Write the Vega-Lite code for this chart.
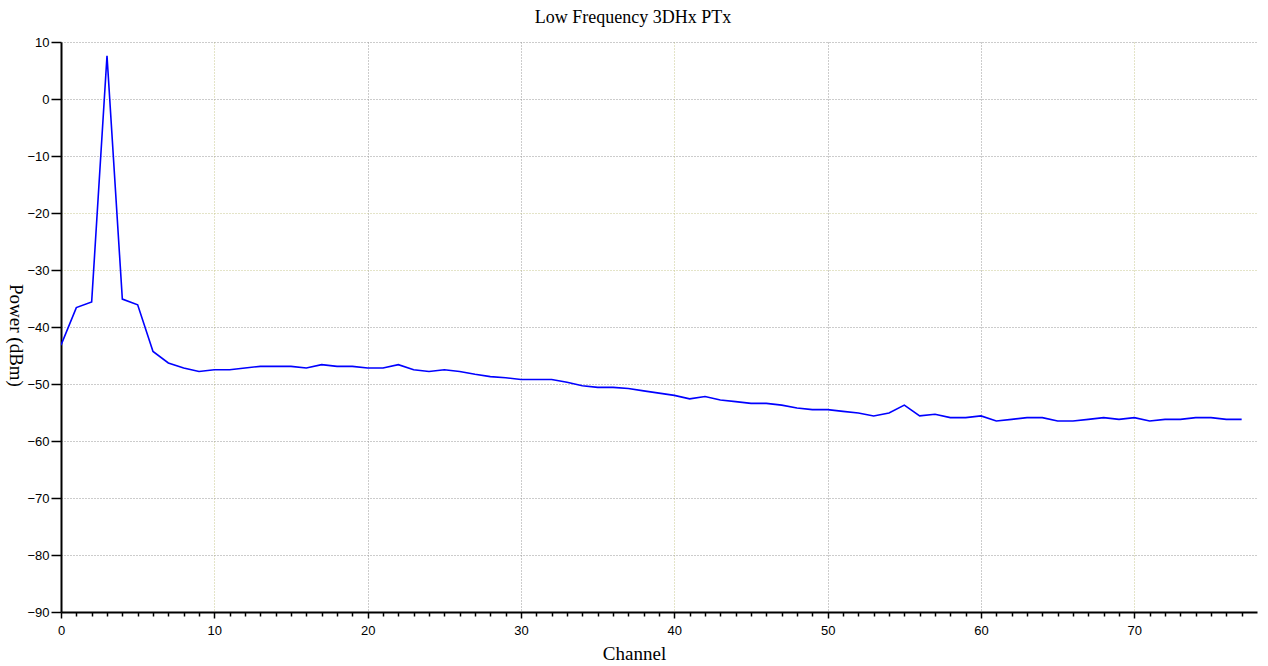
{
  "$schema": "https://vega.github.io/schema/vega-lite/v6.json",
  "width": 1196,
  "height": 570,
  "autosize": {"type": "none"},
  "padding": {"left": 61, "top": 42, "right": 11, "bottom": 54},
  "background": "white",
  "title": {
    "text": "Low Frequency 3DHx PTx",
    "font": "Liberation Serif",
    "fontSize": 18,
    "fontWeight": "normal",
    "color": "black",
    "anchor": "middle",
    "dx": -26,
    "offset": 9
  },
  "config": {"view": {"stroke": null}},
  "data": {
    "values": [
      {"ch": 0, "p": -43.2}, {"ch": 1, "p": -36.6}, {"ch": 2, "p": -35.6}, {"ch": 3, "p": 7.6},
      {"ch": 4, "p": -35.1}, {"ch": 5, "p": -36.1}, {"ch": 6, "p": -44.3}, {"ch": 7, "p": -46.3},
      {"ch": 8, "p": -47.2}, {"ch": 9, "p": -47.8}, {"ch": 10, "p": -47.5}, {"ch": 11, "p": -47.5},
      {"ch": 12, "p": -47.2}, {"ch": 13, "p": -46.9}, {"ch": 14, "p": -46.9}, {"ch": 15, "p": -46.9},
      {"ch": 16, "p": -47.2}, {"ch": 17, "p": -46.6}, {"ch": 18, "p": -46.9}, {"ch": 19, "p": -46.9},
      {"ch": 20, "p": -47.2}, {"ch": 21, "p": -47.2}, {"ch": 22, "p": -46.6}, {"ch": 23, "p": -47.5},
      {"ch": 24, "p": -47.8}, {"ch": 25, "p": -47.5}, {"ch": 26, "p": -47.8}, {"ch": 27, "p": -48.3},
      {"ch": 28, "p": -48.7}, {"ch": 29, "p": -48.9}, {"ch": 30, "p": -49.2}, {"ch": 31, "p": -49.2},
      {"ch": 32, "p": -49.2}, {"ch": 33, "p": -49.7}, {"ch": 34, "p": -50.3}, {"ch": 35, "p": -50.6},
      {"ch": 36, "p": -50.6}, {"ch": 37, "p": -50.8}, {"ch": 38, "p": -51.2}, {"ch": 39, "p": -51.6},
      {"ch": 40, "p": -52.0}, {"ch": 41, "p": -52.6}, {"ch": 42, "p": -52.2}, {"ch": 43, "p": -52.8},
      {"ch": 44, "p": -53.1}, {"ch": 45, "p": -53.4}, {"ch": 46, "p": -53.4}, {"ch": 47, "p": -53.7},
      {"ch": 48, "p": -54.2}, {"ch": 49, "p": -54.5}, {"ch": 50, "p": -54.5}, {"ch": 51, "p": -54.8},
      {"ch": 52, "p": -55.1}, {"ch": 53, "p": -55.6}, {"ch": 54, "p": -55.1}, {"ch": 55, "p": -53.7},
      {"ch": 56, "p": -55.6}, {"ch": 57, "p": -55.3}, {"ch": 58, "p": -55.9}, {"ch": 59, "p": -55.9},
      {"ch": 60, "p": -55.6}, {"ch": 61, "p": -56.5}, {"ch": 62, "p": -56.2}, {"ch": 63, "p": -55.9},
      {"ch": 64, "p": -55.9}, {"ch": 65, "p": -56.5}, {"ch": 66, "p": -56.5}, {"ch": 67, "p": -56.2},
      {"ch": 68, "p": -55.9}, {"ch": 69, "p": -56.2}, {"ch": 70, "p": -55.9}, {"ch": 71, "p": -56.5},
      {"ch": 72, "p": -56.2}, {"ch": 73, "p": -56.2}, {"ch": 74, "p": -55.9}, {"ch": 75, "p": -55.9},
      {"ch": 76, "p": -56.2}, {"ch": 77, "p": -56.2}
    ]
  },
  "mark": {"type": "line", "color": "#0000ff", "strokeWidth": 1.6, "clip": true},
  "encoding": {
    "x": {
      "field": "ch",
      "type": "quantitative",
      "scale": {"domain": [0, 78], "nice": false, "zero": false},
      "axis": {
        "title": "Channel",
        "titleFont": "Liberation Serif",
        "titleFontSize": 19,
        "titleFontWeight": "normal",
        "titleColor": "black",
        "titleX": 573,
        "titleY": 41,
        "titleAlign": "center",
        "titleBaseline": "middle",
        "values": [0,1,2,3,4,5,6,7,8,9,10,11,12,13,14,15,16,17,18,19,20,21,22,23,24,25,26,27,28,29,30,31,32,33,34,35,36,37,38,39,40,41,42,43,44,45,46,47,48,49,50,51,52,53,54,55,56,57,58,59,60,61,62,63,64,65,66,67,68,69,70,71,72,73,74,75,76,77],
        "labelExpr": "datum.value % 10 == 0 ? datum.label : ''",
        "labelFont": "Liberation Sans",
        "labelFontSize": 13,
        "labelColor": "black",
        "labelPadding": 6,
        "labelFlush": false,
        "labelOverlap": false,
        "domainColor": "black",
        "domainWidth": 2,
        "tickColor": "black",
        "tickWidth": 1.5,
        "tickSize": {"condition": {"test": "datum.value % 10 == 0", "value": 6}, "value": 4},
        "grid": true,
        "gridDash": [1, 2],
        "gridWidth": 1,
        "gridOpacity": {"condition": {"test": "datum.value % 10 == 0 && datum.value > 0", "value": 1}, "value": 0},
        "gridColor": {"condition": {"test": "datum.value == 10 || datum.value == 40 || datum.value == 70", "value": "#c8c890"}, "value": "#999999"}
      }
    },
    "y": {
      "field": "p",
      "type": "quantitative",
      "scale": {"domain": [-90, 10], "nice": false, "zero": false},
      "axis": {
        "title": "Power (dBm)",
        "titleFont": "Liberation Serif",
        "titleFontSize": 19,
        "titleFontWeight": "normal",
        "titleColor": "black",
        "titleAngle": 90,
        "titleX": -46,
        "titleY": 293,
        "titleAlign": "center",
        "titleBaseline": "middle",
        "values": [10, 0, -10, -20, -30, -40, -50, -60, -70, -80, -90],
        "labelFont": "Liberation Sans",
        "labelFontSize": 13,
        "labelColor": "black",
        "labelPadding": 2,
        "labelFlush": false,
        "domainColor": "black",
        "domainWidth": 2,
        "tickColor": "black",
        "tickWidth": 1.5,
        "tickSize": 10,
        "grid": true,
        "gridDash": [1, 2],
        "gridWidth": 1,
        "gridOpacity": {"condition": {"test": "datum.value == -90", "value": 0}, "value": 1},
        "gridColor": {"condition": {"test": "datum.value == -20 || datum.value == -30", "value": "#c8c890"}, "value": "#999999"}
      }
    }
  }
}
